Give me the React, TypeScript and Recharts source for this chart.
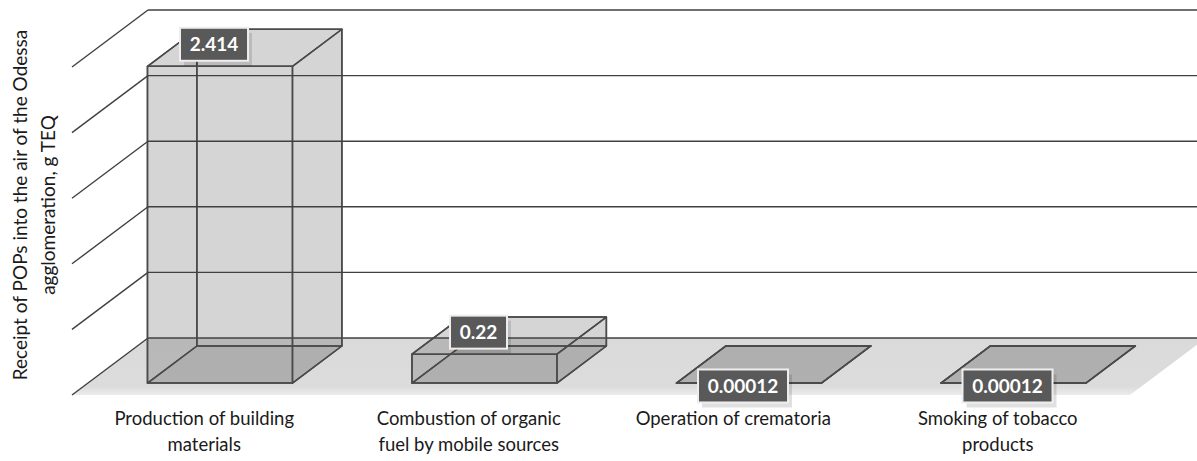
import React from "react";
import {
  BarChart,
  Bar,
  XAxis,
  YAxis,
  ReferenceArea,
  ReferenceLine,
  LabelList
} from "recharts";

const categories = [
  "Production of building materials",
  "Combustion of organic fuel by mobile sources",
  "Operation of crematoria",
  "Smoking of tobacco products"
];
const categoryLines = [
  ["Production of building", "materials"],
  ["Combustion of organic", "fuel by mobile sources"],
  ["Operation of crematoria"],
  ["Smoking of tobacco", "products"]
];
const values = [2.414, 0.22, 0.00012, 0.00012];
const valueLabels = ["2.414", "0.22", "0.00012", "0.00012"];
const yTicks = [0, 0.5, 1, 1.5, 2, 2.5];
const yTitle = ["Receipt of POPs into the air of the Odessa", "agglomeration, g TEQ"];

const data = categories.map((name, i) => ({
  name,
  value: values[i],
  label: valueLabels[i]
}));

// depth of the 3d "room" and of the boxes inside it
const DX = 76;
const DY = -57;
const F_FRONT = 0.21;
const F_BACK = 0.86;
const FONT = "Lato, 'Open Sans', sans-serif";
const LINE = "#404040";

// back wall line + the slanted side-wall line for one tick
const WallLine = (props: any) => {
  const { x1, y1, x2 } = props;
  const left = Math.min(x1, x2);
  const right = Math.max(x1, x2);
  return (
    <g>
      <line x1={left + DX} y1={y1 + DY} x2={right + DX} y2={y1 + DY} stroke={LINE} strokeWidth={1.4} />
      <line x1={left} y1={y1} x2={left + DX} y2={y1 + DY} stroke={LINE} strokeWidth={1.4} />
    </g>
  );
};

const Floor = (props: any) => {
  const { x, y, width, height } = props;
  const y0 = y + height;
  const pts = [
    [x, y0],
    [x + width, y0],
    [x + width + DX, y0 + DY],
    [x + DX, y0 + DY]
  ];
  return (
    <g>
      <defs>
        <linearGradient id="floorGrad" x1="0" y1="0" x2="0" y2="1">
          <stop offset="0%" stopColor="#dadada" />
          <stop offset="85%" stopColor="#dcdcdc" />
          <stop offset="100%" stopColor="#ececec" />
        </linearGradient>
      </defs>
      <polygon points={pts.map((p) => p.join(",")).join(" ")} fill="url(#floorGrad)" />
      <line x1={x + DX} y1={y0 + DY} x2={x + width + DX} y2={y0 + DY} stroke={LINE} strokeWidth={1.4} />
      <line x1={x} y1={y0} x2={x + DX} y2={y0 + DY} stroke={LINE} strokeWidth={1.4} />
    </g>
  );
};

const Box3D = (props: any) => {
  const { x, y, width, height } = props;
  const ox = DX * F_FRONT;
  const oy = DY * F_FRONT;
  const dx = DX * (F_BACK - F_FRONT);
  const dy = DY * (F_BACK - F_FRONT);
  const xl = x + ox;
  const xr = x + width + ox;
  const yt = y + oy;
  const yb = y + height + oy;
  const poly = (p: number[][]) => p.map((q) => q.join(",")).join(" ");
  const edge = { fill: "none", stroke: "#4a4a4a", strokeWidth: 1.5, strokeLinejoin: "round" as const };
  const face = { fill: "#4a4a4a", fillOpacity: 0.12, stroke: "none" };
  const bottom = [[xl, yb], [xr, yb], [xr + dx, yb + dy], [xl + dx, yb + dy]];
  const back = [[xl + dx, yt + dy], [xr + dx, yt + dy], [xr + dx, yb + dy], [xl + dx, yb + dy]];
  const left = [[xl, yt], [xl + dx, yt + dy], [xl + dx, yb + dy], [xl, yb]];
  const right = [[xr, yt], [xr + dx, yt + dy], [xr + dx, yb + dy], [xr, yb]];
  const top = [[xl, yt], [xr, yt], [xr + dx, yt + dy], [xl + dx, yt + dy]];
  const front = [[xl, yt], [xr, yt], [xr, yb], [xl, yb]];
  const faces = [bottom, back, left, right, top, front];
  return (
    <g>
      {faces.map((f, i) => (
        <polygon key={`f${i}`} {...face} fillOpacity={i === 0 ? 0.2 : 0.12} points={poly(f)} />
      ))}
      {faces.map((f, i) => (
        <polygon key={`e${i}`} {...edge} points={poly(f)} />
      ))}
    </g>
  );
};

const ValueLabel = (props: any) => {
  const { x, y, width, height, value } = props;
  const text = String(value);
  const cx = x + width / 2 + 10;
  const cy = height > 3 ? y - 34 : y - 9;
  const w = text.length * 11 + 13;
  const h = 33;
  return (
    <g>
      <rect x={cx - w / 2 + 4} y={cy - h / 2 + 5} width={w} height={h} fill="#000" fillOpacity={0.12} />
      <rect x={cx - w / 2} y={cy - h / 2} width={w} height={h} fill="#595959" stroke="#eeeeee" strokeWidth={2} />
      <text x={cx} y={cy + 7} textAnchor="middle" fill="#ffffff" fontFamily={FONT} fontWeight={700} fontSize={19}>
        {text}
      </text>
    </g>
  );
};

const CategoryTick = (props: any) => {
  const { x, y, index } = props;
  const lines = categoryLines[index] || [];
  return (
    <text x={x} y={y + 22} textAnchor="middle" fill="#1a1a1a" fontFamily={FONT} fontSize={18.5}>
      {lines.map((l, i) => (
        <tspan key={i} x={x} dy={i === 0 ? 0 : 26}>
          {l}
        </tspan>
      ))}
    </text>
  );
};

const NoTick = () => <g />;

const YTitle = (props: any) => {
  const { viewBox } = props;
  const cy = viewBox.y + viewBox.height / 2 - 26;
  return (
    <g>
      {yTitle.map((t, i) => {
        const bx = 27 + i * 28;
        return (
          <text
            key={i}
            x={bx}
            y={cy}
            transform={`rotate(-90, ${bx}, ${cy})`}
            textAnchor="middle"
            fill="#1a1a1a"
            fontFamily={FONT}
            fontSize={19}
          >
            {t}
          </text>
        );
      })}
    </g>
  );
};

export default function App() {
  return (
    <div style={{ width: 1197, height: 461, background: "#fff" }}>
      <style>{`body{margin:0}`}</style>
      <BarChart
        width={1197}
        height={461}
        data={data}
        margin={{ top: 67, right: 67, bottom: 36, left: 12 }}
        barCategoryGap="22.5%"
      >
        <ReferenceArea y1={0} y2={2.5} shape={Floor} ifOverflow="visible" />
        <XAxis dataKey="name" axisLine={false} tickLine={false} tick={CategoryTick} interval={0} height={30} />
        <YAxis
          domain={[0, 2.5]}
          ticks={yTicks}
          width={60}
          tick={NoTick}
          axisLine={false}
          tickLine={false}
          interval={0}
          label={{ content: YTitle }}
        />
        <Bar dataKey="value" shape={Box3D} isAnimationActive={false}>
          <LabelList dataKey="label" content={ValueLabel} />
        </Bar>
        {yTicks
          .filter((t) => t > 0)
          .map((t) => (
            <ReferenceLine key={t} y={t} shape={WallLine} ifOverflow="visible" zIndex={500} />
          ))}
      </BarChart>
    </div>
  );
}
